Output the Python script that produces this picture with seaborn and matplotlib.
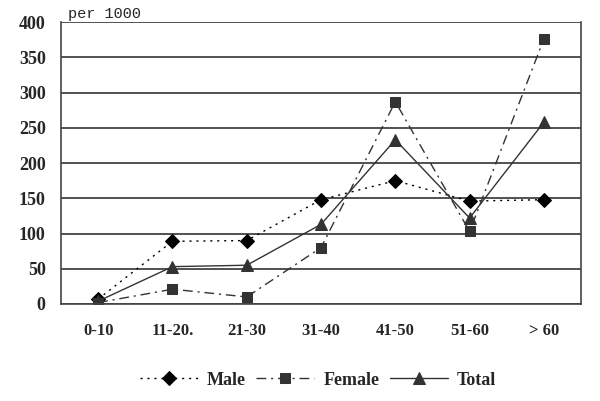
"""
Age-specific rates per 1000, male / female / total.
"""

import numpy as np
import pandas as pd
import matplotlib
matplotlib.use('Agg')
import matplotlib.pyplot as plt
import seaborn as sns

# Data
AGE_GROUPS = ['0-10', '11-20.', '21-30', '31-40', '41-50', '51-60', '> 60']
MALE = [7, 89, 90, 148, 175, 146, 148]
FEMALE = [2, 21, 10, 80, 287, 103, 376]
TOTAL = [4, 53, 55, 113, 233, 122, 258]

SERIES = [
    ('Male', MALE, (0, (1.5, 3.5)), 'D', 'black', 7),
    ('Female', FEMALE, (0, (7, 3.5, 1.5, 3.5)), 's', '#333333', 7),
    ('Total', TOTAL, '-', '^', '#333333', 8),
]


def main():
    sns.set_style('white')
    plt.rcParams['font.family'] = ['Liberation Serif', 'DejaVu Serif']

    fig = plt.figure(figsize=(6, 4.01), dpi=100)
    ax = fig.add_axes([0.1017, 0.2419, 0.8667, 0.703])

    pos = np.arange(len(AGE_GROUPS))
    for name, vals, ls, marker, color, ms in SERIES:
        df = pd.DataFrame({'x': pos, 'y': vals})
        sns.lineplot(data=df, x='x', y='y', ax=ax, label=name,
                     color=color, linestyle=ls, linewidth=1.0,
                     marker=marker, markersize=ms, markeredgecolor=color,
                     markerfacecolor=color)

    ax.set_xlim(-0.5, len(AGE_GROUPS) - 0.5)
    ax.set_ylim(0, 400)
    ax.set_yticks(range(0, 401, 50))
    ax.set_xticks(pos)
    ax.set_xticklabels(AGE_GROUPS, fontsize=12, fontweight='bold')
    ax.set_xticks(np.arange(-0.5, len(AGE_GROUPS), 1), minor=True)
    ax.tick_params(axis='x', which='major', length=0, pad=14)
    ax.tick_params(axis='x', which='minor', length=5, width=1, color='#444444',
                   direction='out')
    ax.tick_params(axis='y', length=5, width=1, color='#444444',
                   direction='out', labelsize=13, pad=6)
    for lab in ax.get_yticklabels():
        lab.set_fontweight('bold')

    ax.yaxis.grid(True, color='#333333', linewidth=1.2)
    ax.set_axisbelow(True)
    for side in ['left', 'bottom', 'right']:
        ax.spines[side].set_visible(True)
        ax.spines[side].set_color('#444444')
        ax.spines[side].set_linewidth(1.2)
    ax.spines['top'].set_visible(False)

    ax.set_xlabel('')
    ax.set_ylabel('')
    ax.text(0.013, 1.005, 'per 1000', transform=ax.transAxes,
            family='Liberation Mono', fontsize=11, va='bottom', ha='left')

    ax.legend_.remove()
    handles, labels = ax.get_legend_handles_labels()
    fig.legend(handles, labels, loc='center', bbox_to_anchor=(0.53, 0.052),
               ncol=3, frameon=False, prop={'size': 13, 'weight': 'bold'},
               handlelength=3.2, columnspacing=0.6, handletextpad=0.5)

    fig.savefig('out.png', dpi=100)
    plt.close(fig)


if __name__ == '__main__':
    main()
